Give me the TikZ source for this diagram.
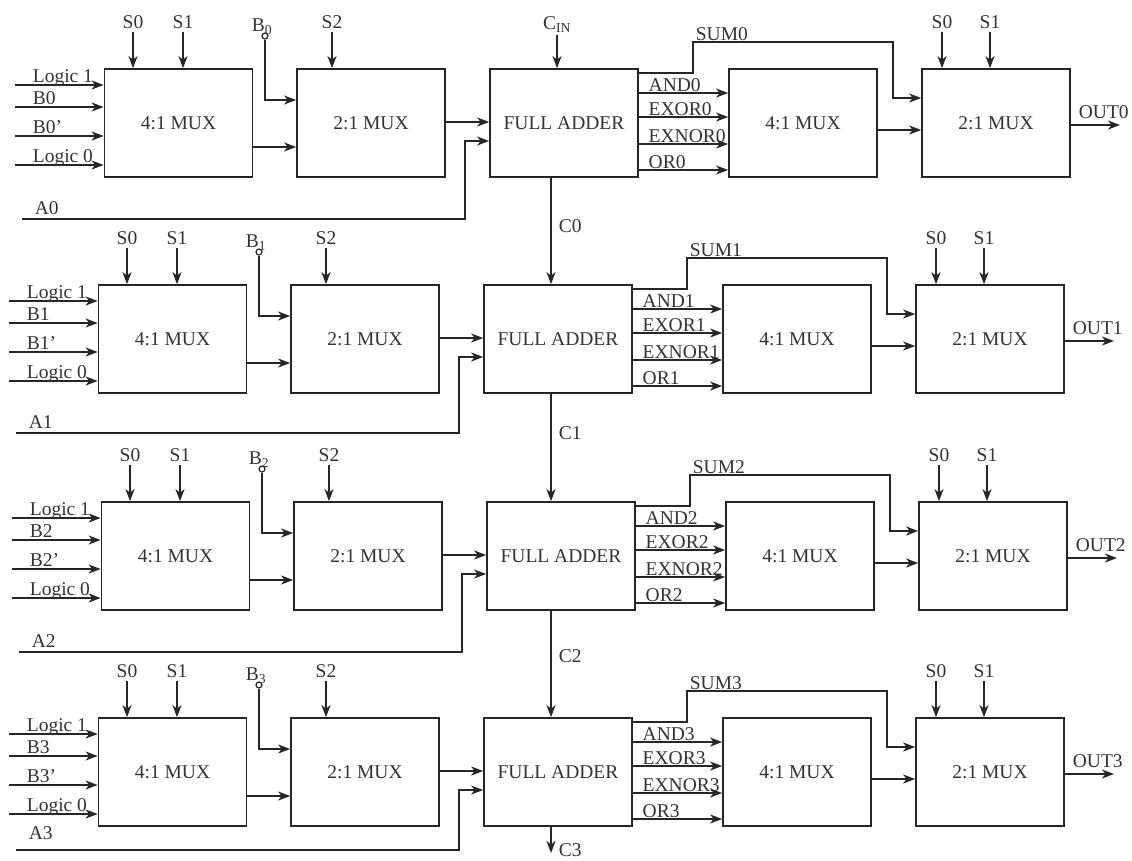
\documentclass[tikz,border=0pt]{standalone}
\usepackage{fontspec}
\setmainfont{Liberation Serif}
\usetikzlibrary{arrows.meta,calc}
\begin{document}
\begin{tikzpicture}[x=1pt,y=-1pt,
  line width=1.7pt, color=black!85,
  box/.style={draw, rectangle, minimum width=148pt, minimum height=108pt, inner sep=0pt,
    font=\fontsize{19.5}{21}\selectfont, text=black!80},
  lbl/.style={inner sep=0pt, font=\fontsize{19.5}{21}\selectfont, text=black!80},
  arr/.style={-{Stealth[length=12pt,width=9pt,inset=3.5pt]}},
  circ/.style={draw, circle, minimum size=6pt, inner sep=0pt, line width=1.2pt}]
\useasboundingbox (0,0) rectangle (1132,860);

\foreach \r/\T/\dx/\ay/\al in {0/69/0/5/150, 1/285/-6/5/148, 2/502/-3/5/150, 3/718/-6/11/132}{
\begin{scope}[shift={(\dx,\T)}]
  % blocks
  \node[box] (La\r) at (178.5,54) {4:1 MUX};
  \node[box] (Lb\r) at (371,54) {2:1 MUX};
  \node[box] (FA\r) at (564,54) {FULL ADDER};
  \node[box] (Ra\r) at (803,54) {4:1 MUX};
  \node[box] (Rb\r) at (996,54) {2:1 MUX};
  % inputs of left 4:1 mux
  \foreach \k/\yy/\tx in {1/16/Logic 1, 2/38/B\r, 3/67/B\r', 4/96/Logic 0}{
    \coordinate (in\r\k) at (15,\yy);
    \draw[arr] (in\r\k) -- (in\r\k -| La\r.west);
    \node[lbl, anchor=base west] (tin\r\k) at (32,\yy-3) {\tx};
  }
  % select lines
  \foreach \k/\xx/\tx in {a/133/S0, b/183/S1, c/332/S2, d/942/S0, e/990/S1}{
    \coordinate (s\k\r) at (\xx,-37);
    \draw[arr] (s\k\r) -- (s\k\r |- La\r.north);
    \node[lbl, anchor=south] (ts\k\r) at ([yshift=2pt]s\k\r) {\tx};
  }
  % B input with small terminal
  \node[circ] (bc\r) at (265,-33) {};
  \node[lbl, anchor=base] (tb\r) at (262,-38) {B\textsubscript{\r}};
  \draw[arr] (bc\r.south) |- ([yshift=23pt]Lb\r.west);
  % left 4:1 -> 2:1
  \draw[arr] ([yshift=-24pt]La\r.east) -- ([yshift=-24pt]Lb\r.west);
  % 2:1 -> full adder
  \draw[arr] ([yshift=1pt]Lb\r.east) -- ([yshift=1pt]FA\r.west);
  % A input
  \coordinate (a\r) at (22,\al);
  \draw[arr] (a\r) -| ([xshift=-24pt,yshift=-18pt]FA\r.west) -- ([yshift=-18pt]FA\r.west);
  \node[lbl, anchor=base west] (ta\r) at (34,\al-\ay) {A\r};
  % SUM route
  \draw[arr] ([yshift=50pt]FA\r.east) -- ++(54,0) -- ++(0,-31) -- ++(200,0)
     |- ([yshift=25pt]Rb\r.west);
  \node[lbl, anchor=base west] (tsum\r) at (695,-29) {SUM\r};
  % logic outputs
  \foreach \k/\ys/\tx in {a/30/AND, b/6/EXOR, c/-21/EXNOR, d/-47/OR}{
    \draw[arr] ([yshift=\ys pt]FA\r.east) -- ([yshift=\ys pt]Ra\r.west);
    \node[lbl, anchor=base west] (tl\k\r) at ([xshift=9pt,yshift={\ys pt+2pt}]FA\r.east) {\tx\r};
  }
  % right 4:1 -> 2:1
  \draw[arr] ([yshift=-7pt]Ra\r.east) -- ([yshift=-7pt]Rb\r.west);
  % output
  \coordinate (o\r) at (1120,56);
  \draw[arr] (Rb\r.east |- o\r) -- (o\r);
  \node[lbl, anchor=base west] (to\r) at (1078,49) {OUT\r};
\end{scope}
}

% carry chain
\coordinate (cin) at (557,35);
\draw[arr] (cin) -- (cin |- FA0.north);
\node[lbl, anchor=south] (tcin) at ([yshift=2pt]cin) {C\textsubscript{IN}};
\coordinate (cx) at (551,0);
\draw[arr] (FA0.south -| cx) -- (FA1.north -| cx);
\draw[arr] (FA1.south -| cx) -- (FA2.north -| cx);
\draw[arr] (FA2.south -| cx) -- (FA3.north -| cx);
\coordinate (c3) at (551,853);
\draw[arr] (FA3.south -| c3) -- (c3);
\node[lbl, anchor=west] (tc0) at (558,226) {C0};
\node[lbl, anchor=west] (tc1) at (558,433) {C1};
\node[lbl, anchor=west] (tc2) at (558,656) {C2};
\node[lbl, anchor=west] (tc3) at (558,850) {C3};
\end{tikzpicture}
\end{document}
